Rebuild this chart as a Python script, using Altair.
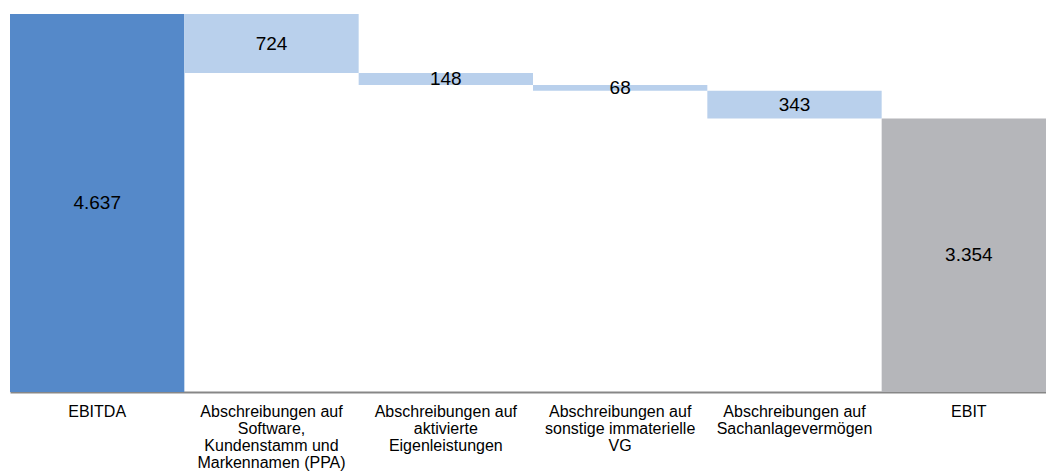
import altair as alt
import pandas as pd

categories = [
    "EBITDA",
    "Abschreibungen auf|Software,|Kundenstamm und|Markennamen (PPA)",
    "Abschreibungen auf|aktivierte|Eigenleistungen",
    "Abschreibungen auf|sonstige immaterielle|VG",
    "Abschreibungen auf|Sachanlagevermögen",
    "EBIT",
]
values = [4637, -724, -148, -68, -343, 3354]
kinds = ["start", "delta", "delta", "delta", "delta", "end"]

rows = []
running = 0
for cat, v, k in zip(categories, values, kinds):
    if k == "delta":
        start, end = running, running + v
        running = end
    else:
        start, end = 0, v
        running = v
    rows.append({
        "cat": cat,
        "start": start,
        "end": end,
        "mid": (start + end) / 2,
        "kind": k,
        "label": f"{abs(v):,}".replace(",", "."),
    })
df = pd.DataFrame(rows)

xscale = alt.Scale(paddingInner=0, paddingOuter=0, range=[0, 1046])
xenc = alt.X(
    "cat:N",
    sort=categories,
    scale=xscale,
    axis=alt.Axis(
        title=None,
        labelAngle=0,
        labelExpr="split(datum.label, '|')",
        labelFont="Liberation Sans",
        labelFontSize=16,
        labelLineHeight=17,
        labelColor="#000000",
        labelPadding=11,
        labelLimit=300,
        ticks=False,
        domainColor="#878787",
        domainWidth=2,
        grid=False,
    ),
)
yscale = alt.Scale(domain=[0, 4637], nice=False, zero=True)

bars = alt.Chart(df).mark_bar().encode(
    x=xenc,
    y=alt.Y("start:Q", scale=yscale, axis=None),
    y2="end:Q",
    color=alt.Color(
        "kind:N",
        scale=alt.Scale(domain=["start", "delta", "end"], range=["#5589C9", "#B9D0EC", "#B5B6BA"]),
        legend=None,
    ),
)

text = alt.Chart(df).mark_text(
    font="Liberation Sans", fontSize=19, color="#000000", baseline="middle", align="center"
).encode(
    x=alt.X("cat:N", sort=categories, scale=xscale),
    y=alt.Y("mid:Q", scale=yscale, axis=None),
    text="label:N",
)

chart = (
    alt.layer(bars, text)
    .properties(
        width=1036,
        height=378,
        autosize=alt.AutoSizeParams(type="none"),
        padding={"left": 10, "top": 14, "right": 0, "bottom": 80},
    )
    .configure_view(stroke=None)
)

chart.save("out.html", embed_options={"renderer": "svg", "actions": False})
